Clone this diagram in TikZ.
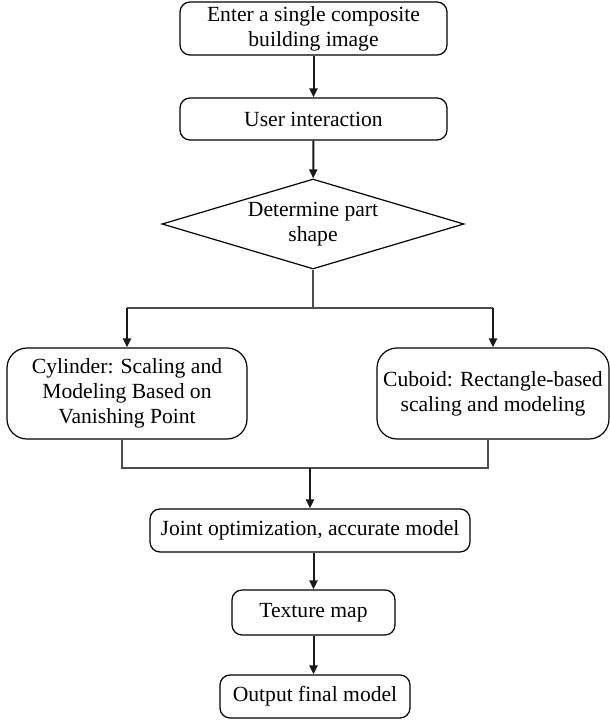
\documentclass[tikz,border=0pt]{standalone}
\usepackage{fontspec}
\setmainfont{Liberation Serif}
\usepackage{tikz}
\usetikzlibrary{shapes.geometric, arrows.meta}

\begin{document}
\begin{tikzpicture}[x=0.5pt, y=-0.5pt]
        \tikzstyle{box} = [draw, rounded corners=5pt, line width=0.6pt, align=center, inner sep=1pt, font=\fontsize{10.8}{12.5}\selectfont]
        \tikzstyle{bigbox} = [box, rounded corners=10pt]
        \tikzstyle{decision} = [draw, diamond, aspect=3.36, inner sep=0pt, line width=0.6pt, align=center, minimum width=151pt, minimum height=45pt, font=\fontsize{10.8}{12.5}\selectfont]
        \tikzstyle{arrow} = [-{Triangle[length=4.5pt, width=4pt]}, line width=1pt, draw=black!90]
        \tikzstyle{line} = [-, line width=0.75pt, draw=black!70]
        \useasboundingbox (0,0) rectangle (610,723);
        \node[box, minimum width=133.5pt, minimum height=26.5pt] (node1) at (313.5,28.5) {Enter a single composite\\building image};
        \node[box, minimum width=133.5pt, minimum height=21pt] (node2) at (313.5,119) {User interaction};
        \node[decision] (node3) at (313,224) {Determine part\\shape};
        \node[bigbox, minimum width=120pt, minimum height=45.5pt] (node4) at (127,393.5) {Cylinder: Scaling and\\Modeling Based on\\Vanishing Point};
        \node[bigbox, minimum width=116pt, minimum height=45.5pt] (node5) at (493,393.5) {Cuboid: Rectangle-based\\scaling and modeling};
        \node[box, minimum width=160pt, minimum height=21.5pt] (node6) at (310,530.5) {Joint optimization, accurate model};
        \node[box, minimum width=81.5pt, minimum height=22.5pt] (node7) at (313.5,612.5) {Texture map};
        \node[box, minimum width=95pt, minimum height=21.5pt] (node8) at (315,696.5) {Output final model};
        \coordinate (split) at (313,308);
        \coordinate (join) at (310,468);
        \draw[arrow] (node1) -- (node2);
        \draw[arrow] (node2) -- (node3);
        \draw[line] (node3.south) -- (split);
        \draw[line] (node4.north |- split) -- (node5.north |- split);
        \draw[arrow] (node4.north |- split) -- (node4.north);
        \draw[arrow] (node5.north |- split) -- (node5.north);
        \draw[line] ([xshift=-2.5pt]node4.south) |- (join);
        \draw[line] ([xshift=-2.5pt]node5.south) |- (join);
        \draw[arrow] (join) -- (node6.north -| join);
        \draw[arrow] (node6.south -| node7) -- (node7);
        \draw[arrow] (node7) -- (node8.north -| node7);
    \end{tikzpicture}
\end{document}
